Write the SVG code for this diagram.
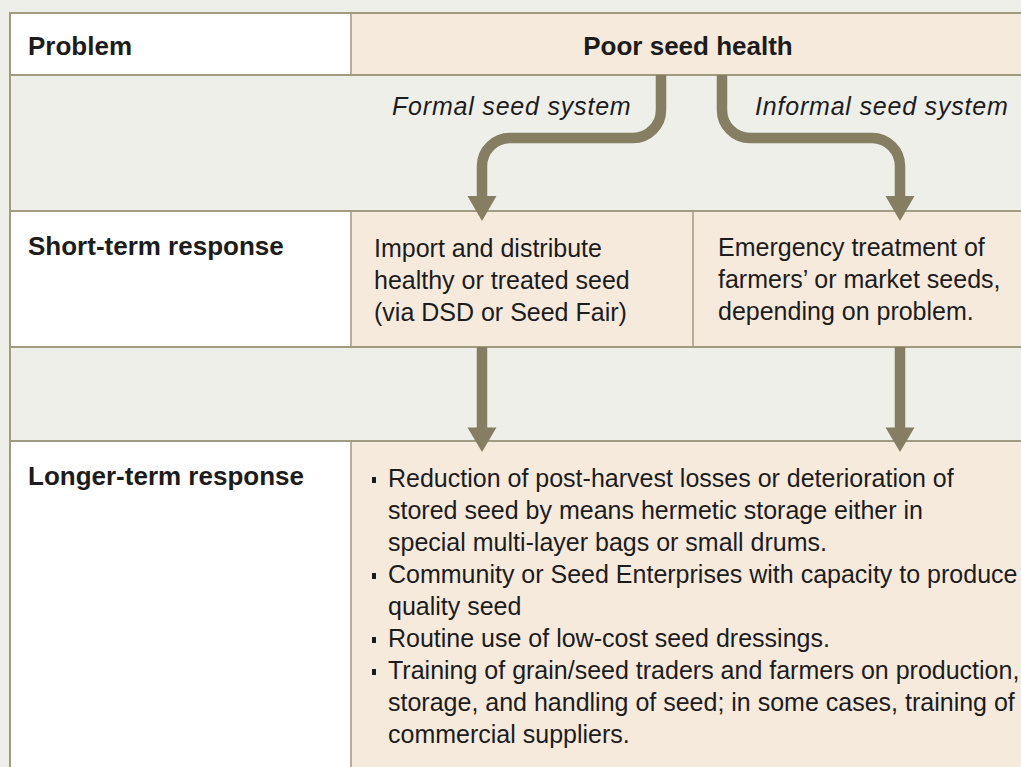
<svg xmlns="http://www.w3.org/2000/svg" width="1021" height="767" viewBox="0 0 1021 767">
  <style>
    .bg { fill: #efefea; }
    .peach { fill: #f6eadd; }
    .white { fill: #ffffff; }
    .grid { stroke: #a19b82; stroke-width: 2; fill: none; }
    .vgrid { stroke: #a19b82; stroke-width: 1.5; fill: none; }
    .hdr { font-family: "Liberation Sans", Arial, sans-serif; font-weight: bold; font-size: 26px; fill: #1c1c1c; }
    .body { font-family: "Liberation Sans", Arial, sans-serif; font-size: 25px; fill: #1c1c1c; }
    .lbl { font-family: "Liberation Sans", Arial, sans-serif; font-style: italic; font-size: 25px; letter-spacing: 0.8px; fill: #1c1c1c; }
    .pipe { stroke: #857e62; stroke-width: 10.5; fill: none; }
    .head { fill: #857e62; }
    .bullet { fill: #1c1c1c; }
  </style>

  <rect class="bg" x="0" y="0" width="1021" height="767"/>

  <g id="row-problem">
    <rect class="white" x="10" y="13" width="341" height="62"/>
    <text class="hdr" x="28" y="55">Problem</text>
  </g>
  <g id="node-poor-seed-health">
    <rect class="peach" x="351" y="13" width="670" height="62"/>
    <text class="hdr" x="688" y="55" text-anchor="middle">Poor seed health</text>
  </g>

  <g id="band-systems">
    <rect class="bg" x="10" y="75" width="1011" height="136"/>
    <text class="lbl" x="392" y="115">Formal seed system</text>
    <text class="lbl" x="755" y="115">Informal seed system</text>
  </g>

  <g id="row-short-term">
    <rect class="white" x="10" y="211" width="341" height="136"/>
    <text class="hdr" x="28" y="255">Short-term response</text>
  </g>
  <g id="node-formal-short">
    <rect class="peach" x="351" y="211" width="342" height="136"/>
    <text class="body" x="374" y="257">Import and distribute</text>
    <text class="body" x="374" y="289">healthy or treated seed</text>
    <text class="body" x="374" y="321">(via DSD or Seed Fair)</text>
  </g>
  <g id="node-informal-short">
    <rect class="peach" x="693" y="211" width="328" height="136"/>
    <text class="body" x="718" y="256">Emergency treatment of</text>
    <text class="body" x="718" y="288">farmers’ or market seeds,</text>
    <text class="body" x="718" y="320">depending on problem.</text>
  </g>

  <g id="band-gap">
    <rect class="bg" x="10" y="347" width="1011" height="94"/>
  </g>

  <g id="row-longer-term">
    <rect class="white" x="10" y="441" width="341" height="326"/>
    <text class="hdr" x="28" y="485">Longer-term response</text>
  </g>
  <g id="node-longer">
    <rect class="peach" x="351" y="441" width="670" height="326"/>
    <rect class="bullet" x="372" y="477" width="4" height="6"/>
    <text class="body" x="388" y="487">Reduction of post-harvest losses or deterioration of</text>
    <text class="body" x="388" y="519">stored seed by means hermetic storage either in</text>
    <text class="body" x="388" y="551">special multi-layer bags or small drums.</text>
    <rect class="bullet" x="372" y="573" width="4" height="6"/>
    <text class="body" x="388" y="583">Community or Seed Enterprises with capacity to produce</text>
    <text class="body" x="388" y="615">quality seed</text>
    <rect class="bullet" x="372" y="637" width="4" height="6"/>
    <text class="body" x="388" y="647">Routine use of low-cost seed dressings.</text>
    <rect class="bullet" x="372" y="669" width="4" height="6"/>
    <text class="body" x="388" y="679">Training of grain/seed traders and farmers on production,</text>
    <text class="body" x="388" y="711">storage, and handling of seed; in some cases, training of</text>
    <text class="body" x="388" y="743">commercial suppliers.</text>
  </g>

  <g id="grid-lines">
    <path class="grid" d="M10,13 H1021 M10,75 H1021 M10,211 H1021 M10,347 H1021 M10,441 H1021 M10,12 V767"/>
    <path class="vgrid" d="M351,13 V75 M351,211 V347 M351,441 V767 M693,211 V347"/>
  </g>

  <g id="connectors">
    <path class="pipe" d="M661,75 V110 A28,28 0 0 1 633,138 H510 A28,28 0 0 0 482,166 V198"/>
    <polygon class="head" points="467.5,196 496.5,196 482,221"/>
    <path class="pipe" d="M722,75 V110 A28,28 0 0 0 750,138 H872 A28,28 0 0 1 900,166 V198"/>
    <polygon class="head" points="885.5,196 914.5,196 900,221"/>
    <path class="pipe" d="M482,347 V430"/>
    <polygon class="head" points="467.5,427.5 496.5,427.5 482,452"/>
    <path class="pipe" d="M900,347 V430"/>
    <polygon class="head" points="885.5,427.5 914.5,427.5 900,452"/>
  </g>
</svg>
